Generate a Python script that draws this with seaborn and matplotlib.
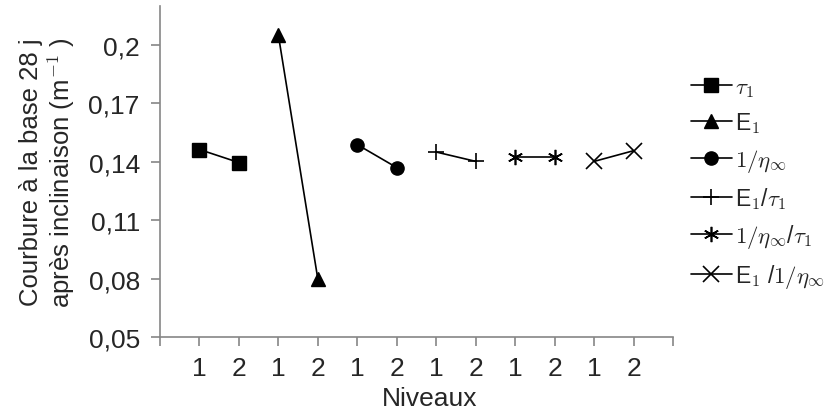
import pandas as pd
import numpy as np
import seaborn as sns
import matplotlib.pyplot as plt

# Series and values
series = [r'$\tau_1$', r'E$_{\mathsf{1}}$', r'$1/\eta_\infty$',
          r'E$_{\mathsf{1}}$/$\tau_1$', r'$1/\eta_\infty$/$\tau_1$',
          r'E$_{\mathsf{1}}$ /$1/\eta_\infty$']
niveau1 = [0.1463, 0.2050, 0.1488, 0.1450, 0.1427, 0.1402]
niveau2 = [0.1396, 0.0797, 0.1370, 0.1402, 0.1427, 0.1457]
markers = ['s', '^', 'o', '+', (6, 2, 0), 'x']
yticks = [0.05, 0.08, 0.11, 0.14, 0.17, 0.2]

# Long table: each series gets its own pair of slots on the x axis
rows = []
for i, name in enumerate(series):
    rows.append({'serie': name, 'niveau': 1, 'pos': 2 * i + 1, 'val': niveau1[i]})
    rows.append({'serie': name, 'niveau': 2, 'pos': 2 * i + 2, 'val': niveau2[i]})
data = pd.DataFrame(rows)

sns.set_style('white')
plt.rcParams['font.family'] = ['Liberation Sans', 'DejaVu Sans']
plt.rcParams['mathtext.fontset'] = 'cm'

fig = plt.figure(figsize=(8.31, 4.14), dpi=100)
ax = fig.add_axes([0.1925, 0.1836, 0.6175, 0.7994])

for name, m in zip(series, markers):
    sub = data[data['serie'] == name]
    filled = m in ('s', '^', 'o')
    sns.lineplot(data=sub, x='pos', y='val', ax=ax, color='black', linewidth=1.2,
                 marker=m, markersize=9.5 if filled else 11,
                 markeredgewidth=1.0 if filled else 1.2,
                 markerfacecolor='black', markeredgecolor='black', label=name)

ax.set_xlim(0, 13)
ax.set_ylim(0.05, 0.22)
ax.set_xticks(range(0, 14))
ax.set_xticklabels([''] + ['1', '2'] * 6 + [''], fontsize=19)
ax.set_yticks(yticks)
ax.set_yticklabels([f'{v:g}'.replace('.', ',') for v in yticks], fontsize=19)
ax.tick_params(axis='both', direction='out', length=6.5, width=1.2, color='#868686',
               bottom=True, left=True)
ax.tick_params(axis='x', pad=7)
ax.tick_params(axis='y', pad=8)
for s in ['top', 'right']:
    ax.spines[s].set_visible(False)
for s in ['left', 'bottom']:
    ax.spines[s].set_color('#868686')
    ax.spines[s].set_linewidth(1.2)

ax.set_xlabel('Niveaux', fontsize=19)
ax.xaxis.set_label_coords(0.526, -0.148)
ax.set_ylabel('Courbure à la base 28 j\naprès inclinaison (m$^{\\mathsf{-1}}$ )',
              fontsize=18.5, labelpad=8, linespacing=1.1)

ax.legend(loc='center left', bbox_to_anchor=(0.994, 0.467), frameon=False,
          fontsize=16.5, handlelength=1.8, labelspacing=0.5, handletextpad=0.15,
          borderpad=0.4)

fig.savefig('out.png', dpi=100)
